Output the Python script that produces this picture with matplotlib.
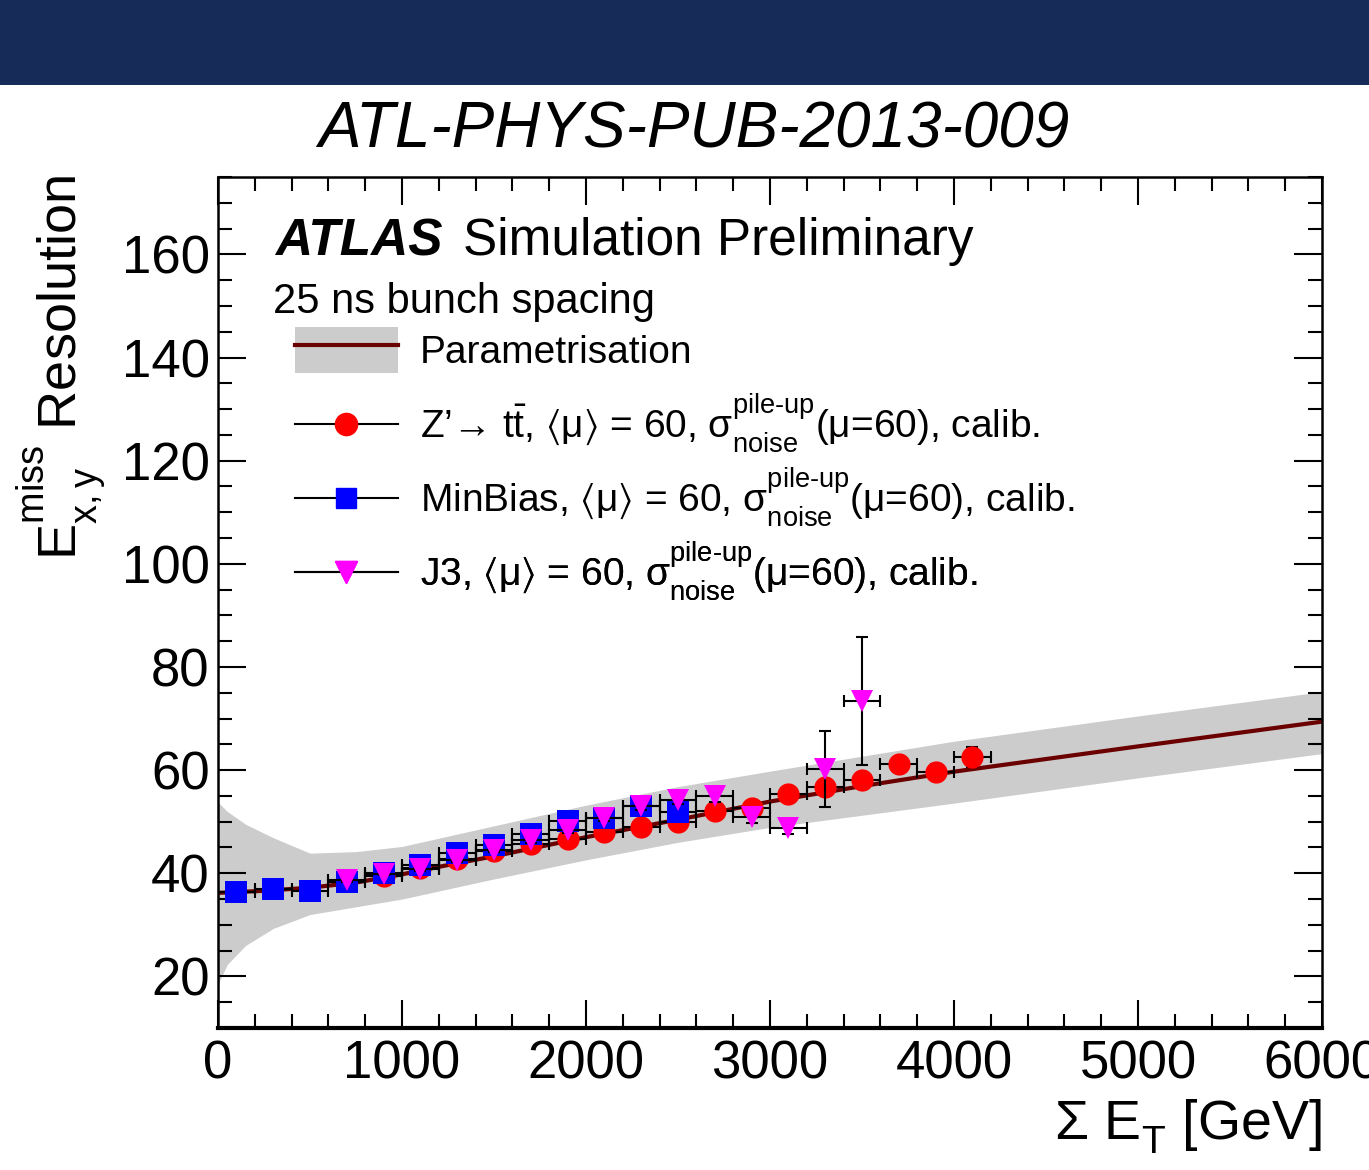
import matplotlib
matplotlib.use("Agg")
import matplotlib._mathtext as mathtext_internals
import matplotlib.pyplot as plt
from matplotlib.lines import Line2D
from matplotlib.patches import Patch, Rectangle
from matplotlib.ticker import MultipleLocator

plt.rcParams["font.family"] = ["Liberation Sans", "DejaVu Sans"]
plt.rcParams["mathtext.fontset"] = "custom"
plt.rcParams["mathtext.rm"] = "Liberation Sans"
plt.rcParams["mathtext.it"] = "Liberation Sans:italic"
plt.rcParams["mathtext.bf"] = "Liberation Sans:bold"
plt.rcParams["mathtext.default"] = "regular"
plt.rcParams["mathtext.fallback"] = "stixsans"
# ROOT-like placement of super/subscripts (further from the baseline)
mathtext_internals.FontConstantsBase.sup1 = 1.15
mathtext_internals.FontConstantsBase.sub1 = 0.5
mathtext_internals.FontConstantsBase.sub2 = 0.75

# parametrisation curve and its band
param_x = [0, 250, 500, 750, 1000, 1250, 1500, 2000, 2500, 3000, 3500, 4000, 5000, 6000]
param_y = [36.2, 36.6, 37.2, 38.2, 39.8, 41.6, 43.3, 47.0, 50.4, 53.9, 56.9, 59.7, 64.6, 69.4]
band_x = [0, 50, 150, 300, 500, 750, 1000, 1500, 2000, 2500, 3000, 4000, 5000, 6000]
band_hi = [53.8, 52.0, 49.5, 46.9, 43.9, 44.2, 45.2, 49.2, 53.2, 56.8, 59.8, 65.6, 70.5, 75.2]
band_lo = [18.5, 22.3, 26.0, 29.3, 32.0, 33.5, 35.0, 38.9, 42.6, 46.0, 48.9, 53.6, 58.5, 63.2]

# Z' -> ttbar
zp_x = [900, 1100, 1300, 1500, 1700, 1900, 2100, 2300, 2500, 2700, 2900, 3100, 3300, 3500, 3700, 3900, 4100]
zp_y = [39.5, 41.0, 42.8, 44.4, 45.7, 46.6, 48.0, 49.0, 50.0, 52.1, 52.7, 55.4, 56.7, 58.0, 61.2, 59.6, 62.5]
zp_err = [0.3, 0.3, 0.3, 0.4, 0.4, 0.5, 0.5, 0.6, 0.6, 0.7, 0.8, 0.9, 1.0, 1.2, 1.4, 1.6, 1.9]

# MinBias
mb_x = [100, 300, 500, 700, 900, 1100, 1300, 1500, 1700, 1900, 2100, 2300, 2500]
mb_y = [36.4, 37.0, 36.6, 38.4, 40.1, 41.6, 43.9, 45.5, 47.7, 50.2, 50.8, 53.1, 51.8]
mb_err = [0.2, 0.2, 0.2, 0.2, 0.3, 0.3, 0.3, 0.4, 0.4, 0.5, 0.6, 0.8, 1.0]

# J3
j3_x = [700, 900, 1100, 1300, 1500, 1700, 1900, 2100, 2300, 2500, 2700, 2900, 3100, 3300, 3500]
j3_y = [38.7, 39.9, 40.8, 42.6, 44.6, 46.4, 48.3, 50.7, 53.0, 54.2, 54.9, 50.9, 48.7, 60.2, 73.4]
j3_err = [0.3, 0.3, 0.3, 0.4, 0.4, 0.5, 0.5, 0.6, 0.7, 0.8, 1.0, 1.1, 1.0, 7.4, 12.5]

bin_half = 100

fig = plt.figure(figsize=(13.69, 11.70), dpi=100)
fig.add_artist(Rectangle((0, 1 - 85 / 1170), 1, 85 / 1170, transform=fig.transFigure,
                         facecolor="#172b59", edgecolor="none"))
fig.text(0.507, 1 - 130 / 1170, "ATL-PHYS-PUB-2013-009", ha="center", va="center",
         style="italic", fontsize=46)

ax = fig.add_axes([218 / 1369, 1 - 1028 / 1170, 1104 / 1369, 851 / 1170])
ax.set_xlim(0, 6000)
ax.set_ylim(10, 175)

ax.fill_between(band_x, band_lo, band_hi, color="#cccccc", lw=0, zorder=1)
ax.plot(param_x, param_y, color="#6b0000", lw=3, zorder=1.5)

series = [
    (zp_x, zp_y, zp_err, "o", "#ff0000", 3),
    (mb_x, mb_y, mb_err, "s", "#0000ff", 4),
    (j3_x, j3_y, j3_err, "v", "#ff00ff", 5),
]
for sx, sy, se, mk, col, z in series:
    ax.errorbar(sx, sy, xerr=bin_half, yerr=se, fmt="none", ecolor="black",
                elinewidth=1.5, capsize=4, capthick=1.5, zorder=z)
    ax.plot(sx, sy, ls="none", marker=mk, ms=16, color=col, mew=0, zorder=z + 0.5)

ax.xaxis.set_major_locator(MultipleLocator(1000))
ax.xaxis.set_minor_locator(MultipleLocator(200))
ax.yaxis.set_minor_locator(MultipleLocator(5))
ax.set_yticks([20, 40, 60, 80, 100, 120, 140, 160])
ax.tick_params(which="both", direction="in", top=True, right=True, width=1.5, labelsize=38)
ax.tick_params(which="major", length=20)
ax.tick_params(which="minor", length=10)
ax.tick_params(axis="x", pad=8)
ax.tick_params(axis="y", pad=6)
for side in ["left", "right", "top"]:
    ax.spines[side].set_linewidth(1.8)
ax.spines["bottom"].set_linewidth(3)

fig.text(1322 / 1369, 1 - 1140 / 1170, r"Σ $E_{T}$ [GeV]", ha="right", va="baseline", fontsize=40)
fig.text(62 / 1369, 1 - 175 / 1170, r"$E^{miss}_{x,y}$ Resolution", ha="center", va="top",
         rotation=90, fontsize=39)

ax.text(0.0516, 0.9083, "ATLAS", transform=ax.transAxes, fontsize=37,
        fontweight="bold", style="italic", va="baseline")
ax.text(0.2219, 0.9083, "Simulation Preliminary", transform=ax.transAxes, fontsize=37,
        va="baseline")
ax.text(0.0498, 0.8402, "25 ns bunch spacing", transform=ax.transAxes, fontsize=30,
        va="baseline")

sig = r"$\sigma^{\text{pile-up}}_{\text{noise}}$($\mu$=60), calib."
rows = [
    ((Patch(facecolor="#cccccc"), Line2D([], [], color="#6b0000", lw=3)),
     "Parametrisation", 0.7967, 1.45),
    (Line2D([], [], color="black", lw=1.5, marker="o", ms=16, mfc="#ff0000", mec="#ff0000"),
     r"Z’→ t$\bar{t}$, $\langle\mu\rangle$ = 60, " + sig, 0.7098, 0.7),
    (Line2D([], [], color="black", lw=1.5, marker="s", ms=15, mfc="#0000ff", mec="#0000ff"),
     r"MinBias, $\langle\mu\rangle$ = 60, " + sig, 0.6228, 0.7),
    (Line2D([], [], color="black", lw=1.5, marker="v", ms=16, mfc="#ff00ff", mec="#ff00ff"),
     r"J3, $\langle\mu\rangle$ = 60, " + sig, 0.5358, 0.7),
]
for handle, label, ypos, hh in rows:
    leg = ax.legend([handle], [label], loc="center left", bbox_to_anchor=(0.0697, ypos),
                    frameon=False, fontsize=28, handlelength=2.65, handleheight=hh,
                    handletextpad=0.57, borderpad=0, borderaxespad=0)
    ax.add_artist(leg)

fig.savefig("out.png", dpi=100)
